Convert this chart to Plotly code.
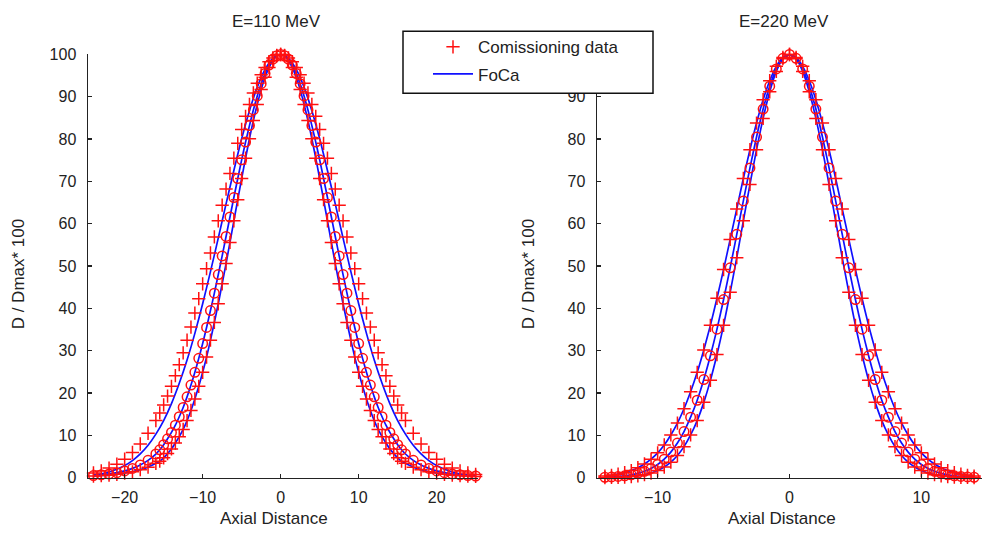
import plotly.graph_objects as go

# ---------------- data ----------------
# E = 110 MeV panel: sample positions (Axial Distance)
L_X = [-24, -23, -22, -21, -20, -19, -18, -17, -16,
       -15.5, -15, -14.5, -14, -13.5, -13, -12.5, -12, -11.5, -11, -10.5, -10,
       -9.5, -9, -8.5, -8, -7.5, -7, -6.5, -6, -5.5, -5, -4.5, -4, -3.5, -3,
       -2.5, -2, -1.5, -1, -0.5, 0, 0.5, 1, 1.5, 2, 2.5, 3, 3.5, 4, 4.5, 5,
       5.5, 6, 6.5, 7, 7.5, 8, 8.5, 9, 9.5, 10, 10.5, 11, 11.5, 12, 12.5, 13,
       13.5, 14, 14.5, 15, 15.5,
       16, 17, 18, 19, 20, 21, 22, 23, 24, 25]

# commissioning data, 110 MeV (three profiles)
L_DATA_A = [1.11, 1.60, 2.28, 3.19, 4.39, 5.96, 7.96, 10.5, 13.5,
            15.3, 17.2, 19.3, 21.6, 24.1, 26.7, 29.5, 32.5, 35.6, 38.9, 42.3, 45.8,
            49.4, 53.1, 56.9, 60.7, 64.4, 68.2, 71.9, 75.5, 79.0, 82.3, 85.4, 88.2, 90.9, 93.2,
            95.2, 96.9, 98.3, 99.2, 99.8, 100, 99.8, 99.2, 98.3, 96.9, 95.2, 93.2, 90.9, 88.2, 85.4, 82.3,
            79.0, 75.5, 71.9, 68.2, 64.4, 60.7, 56.9, 53.1, 49.4, 45.8, 42.3, 38.9, 35.6, 32.5, 29.5, 26.7,
            24.1, 21.6, 19.3, 17.2, 15.3,
            13.5, 10.5, 7.96, 5.96, 4.39, 3.19, 2.28, 1.60, 1.11, 0.76]

L_DATA_B = [0.5, 0.7, 0.9, 1.2, 1.6, 2.2, 3.0, 4.1, 5.6,
            6.6, 7.8, 9.2, 10.7, 12.4, 14.4, 16.6, 19.1, 21.9, 24.9, 28.2, 31.7,
            35.5, 39.5, 43.6, 48.0, 52.4, 57.0, 61.6, 66.2, 70.7, 75.1, 79.3, 83.2, 86.9, 90.2,
            93.1, 95.5, 97.5, 98.9, 99.7, 100, 99.7, 98.9, 97.5, 95.5, 93.1, 90.2, 86.9, 83.2, 79.3, 75.1,
            70.7, 66.2, 61.6, 57.0, 52.4, 48.0, 43.6, 39.5, 35.5, 31.7, 28.2, 24.9, 21.9, 19.1, 16.6, 14.4,
            12.4, 10.7, 9.2, 7.8, 6.6,
            5.6, 4.1, 3.0, 2.2, 1.6, 1.2, 0.9, 0.7, 0.5, 0.4]

L_DATA_C = [0.4, 0.5, 0.6, 0.8, 1.1, 1.4, 1.9, 2.5, 3.4,
            3.9, 4.7, 5.7, 6.8, 8.2, 9.7, 11.4, 13.5, 15.9, 18.6, 21.6, 24.9,
            28.5, 32.5, 36.7, 41.1, 45.8, 50.6, 55.6, 60.7, 65.7, 70.7, 75.5, 80.1, 84.4, 88.2,
            91.7, 94.6, 96.9, 98.6, 99.7, 100, 99.7, 98.6, 96.9, 94.6, 91.7, 88.2, 84.4, 80.1, 75.5, 70.7,
            65.7, 60.7, 55.6, 50.6, 45.8, 41.1, 36.7, 32.5, 28.5, 24.9, 21.6, 18.6, 15.9, 13.5, 11.4, 9.7,
            8.2, 6.8, 5.7, 4.7, 3.9,
            3.4, 2.5, 1.9, 1.4, 1.1, 0.8, 0.6, 0.5, 0.4, 0.3]

# FoCa calculation, 110 MeV, widest profile
L_FOCA_X = [-24, -23, -22, -21, -20, -19, -18, -17, -16, -15, -14, -13, -12, -11, -10,
            -9, -8, -7, -6, -5, -4, -3, -2, -1, 0, 1, 2, 3, 4, 5, 6, 7, 8, 9, 10,
            11, 12, 13, 14, 15, 16, 17, 18, 19, 20, 21, 22, 23, 24, 25]
L_FOCA_A = [0.60, 0.91, 1.35, 1.98, 2.86, 4.04, 5.61, 7.66, 10.3, 13.5, 17.5, 22.3, 27.8, 34.1, 41.1,
            48.7, 56.6, 64.7, 72.6, 80.1, 86.7, 92.3, 96.5, 99.1, 100, 99.1, 96.5, 92.3, 86.7, 80.1, 72.6,
            64.7, 56.6, 48.7, 41.1, 34.1, 27.8, 22.3, 17.5, 13.5, 10.3, 7.66, 5.61, 4.04, 2.86, 1.98,
            1.35, 0.91, 0.60, 0.39]

# E = 220 MeV panel
R_X = [-14, -13.5, -13, -12.5, -12, -11.5, -11, -10.5, -10, -9.5, -9, -8.5, -8, -7.5,
       -7, -6.5, -6, -5.5, -5, -4.5, -4, -3.5, -3, -2.5, -2, -1.5, -1, -0.5, 0,
       0.5, 1, 1.5, 2, 2.5, 3, 3.5, 4, 4.5, 5, 5.5, 6, 6.5, 7, 7.5, 8, 8.5, 9, 9.5,
       10, 10.5, 11, 11.5, 12, 12.5, 13, 13.5, 14]

R_DATA_A = [0.03, 0.06, 0.10, 0.17, 0.28, 0.45, 0.72, 1.11, 1.69, 2.51, 3.67, 5.24, 7.34, 10.1,
            13.5, 17.8, 23.0, 29.1, 36.0, 43.8, 52.0, 60.7, 69.3, 77.5, 84.9, 91.2, 96.0, 99.0, 100,
            99.0, 96.0, 91.2, 84.9, 77.5, 69.3, 60.7, 52.0, 43.8, 36.0, 29.1, 23.0, 17.8, 13.5, 10.1,
            7.34, 5.24, 3.67, 2.51, 1.69, 1.11, 0.72, 0.45, 0.28, 0.17, 0.10, 0.06, 0.03]

R_DATA_B = [0.11, 0.18, 0.29, 0.45, 0.68, 1.03, 1.51, 2.20, 3.13, 4.39, 6.05, 8.19, 10.9, 14.3,
            18.3, 23.2, 28.8, 35.1, 42.1, 49.6, 57.5, 65.4, 73.2, 80.5, 87.1, 92.5, 96.6, 99.1, 100,
            99.1, 96.6, 92.5, 87.1, 80.5, 73.2, 65.4, 57.5, 49.6, 42.1, 35.1, 28.8, 23.2, 18.3, 14.3,
            10.9, 8.19, 6.05, 4.39, 3.13, 2.20, 1.51, 1.03, 0.68, 0.45, 0.29, 0.18, 0.11]

R_DATA_C = [0.39, 0.57, 0.83, 1.19, 1.69, 2.35, 3.24, 4.39, 5.87, 7.74, 10.1, 12.9, 16.3, 20.3,
            24.9, 30.2, 36.0, 42.4, 49.2, 56.3, 63.5, 70.7, 77.5, 83.8, 89.3, 93.8, 97.2, 99.3, 100,
            99.3, 97.2, 93.8, 89.3, 83.8, 77.5, 70.7, 63.5, 56.3, 49.2, 42.4, 36.0, 30.2, 24.9, 20.3,
            16.3, 12.9, 10.1, 7.74, 5.87, 4.39, 3.24, 2.35, 1.69, 1.19, 0.83, 0.57, 0.39]

Y_TICKS = [0, 10, 20, 30, 40, 50, 60, 70, 80, 90, 100]
L_X_TICKS = [-20, -10, 0, 10, 20]
R_X_TICKS = [-10, 0, 10]

PANEL_TITLES = ["E=110 MeV", "E=220 MeV"]
X_TITLE = "Axial Distance"
Y_TITLE = "D / Dmax* 100"
LEGEND_NAMES = ["Comissioning data", "FoCa"]

# ---------------- styling ----------------
RED = "#ff1010"
BLUE = "#1010ff"
FONT = "Liberation Sans"
TXT = "#222222"
W, H = 982, 539

fig = go.Figure()


def line(x, y, xa, ya, show=False):
    fig.add_trace(go.Scatter(x=x, y=y, mode="lines", xaxis=xa, yaxis=ya,
                             line=dict(color=BLUE, width=1.7, shape="spline", smoothing=0.6),
                             name=LEGEND_NAMES[1], showlegend=show, legendrank=2,
                             legendgroup="g2", hoverinfo="skip"))


def marks(x, y, xa, ya, symbol, show=False):
    fig.add_trace(go.Scatter(x=x, y=y, mode="markers", xaxis=xa, yaxis=ya,
                             marker=dict(symbol=symbol, size=9.5, color=RED,
                                         line=dict(color=RED, width=1.5)),
                             name=LEGEND_NAMES[0], showlegend=show, legendrank=1,
                             legendgroup="g1", cliponaxis=False, hoverinfo="skip"))


# 110 MeV
line(L_FOCA_X, L_FOCA_A, "x", "y", show=True)
line(L_X, L_DATA_B, "x", "y")
line(L_X, L_DATA_C, "x", "y")
marks(L_X, L_DATA_A, "x", "y", "cross-thin", show=True)
marks(L_X, L_DATA_B, "x", "y", "circle-open")
marks(L_X, L_DATA_C, "x", "y", "cross-thin")

# 220 MeV
line(R_X, R_DATA_A, "x2", "y2")
line(R_X, R_DATA_B, "x2", "y2")
line(R_X, R_DATA_C, "x2", "y2")
marks(R_X, R_DATA_A, "x2", "y2", "cross-thin")
marks(R_X, R_DATA_B, "x2", "y2", "circle-open")
marks(R_X, R_DATA_C, "x2", "y2", "cross-thin")

ydom = [1 - 485 / H, 1 - 48 / H]
axis_common = dict(showgrid=False, zeroline=False, showline=True, linecolor=TXT,
                   linewidth=1.5, ticks="inside", ticklen=4, tickwidth=1.3,
                   tickcolor=TXT, tickfont=dict(family=FONT, size=16, color=TXT))

fig.update_layout(
    width=W, height=H, autosize=False,
    margin=dict(l=0, r=0, t=0, b=0),
    paper_bgcolor="white", plot_bgcolor="white",
    xaxis=dict(domain=[88 / W, 478 / W], range=[-24.7, 25.3], tickvals=L_X_TICKS,
               anchor="y", ticklabelstandoff=5, **axis_common),
    yaxis=dict(domain=ydom, range=[0, 100], tickvals=Y_TICKS, anchor="x",
               ticklabelstandoff=7, **axis_common),
    xaxis2=dict(domain=[597 / W, 1.0], range=[-14.6, 14.6], tickvals=R_X_TICKS,
                anchor="y2", ticklabelstandoff=5, **axis_common),
    yaxis2=dict(domain=ydom, range=[0, 100], tickvals=Y_TICKS, anchor="x2",
                ticklabelstandoff=7, **axis_common),
    showlegend=True,
    legend=dict(x=428 / W, y=1 - 22 / H, xanchor="left", yanchor="top",
                bgcolor="rgba(0,0,0,0)", borderwidth=0,
                font=dict(family=FONT, size=17, color=TXT),
                tracegroupgap=2, itemwidth=40),
    shapes=[dict(type="rect", xref="paper", yref="paper",
                 x0=403 / W, x1=653 / W, y0=1 - 88 / H, y1=1 - 24 / H,
                 line=dict(color="#111111", width=1.5), fillcolor="white", layer="above")],
)

ann_font = dict(family=FONT, size=17, color=TXT)
annotations = [
    dict(text=PANEL_TITLES[0], x=276 / W, y=1 - 14 / H),
    dict(text=PANEL_TITLES[1], x=784 / W, y=1 - 14 / H),
    dict(text=X_TITLE, x=274 / W, y=1 - 527 / H),
    dict(text=X_TITLE, x=782 / W, y=1 - 527 / H),
    dict(text=Y_TITLE, x=18 / W, y=1 - 275 / H, textangle=-90),
    dict(text=Y_TITLE, x=528 / W, y=1 - 275 / H, textangle=-90),
]
for a in annotations:
    a.update(xref="paper", yref="paper", showarrow=False, font=ann_font,
             xanchor="center", yanchor="middle")
fig.update_layout(annotations=annotations)

fig.write_html(
    "out.html",
    config={"displayModeBar": False, "staticPlot": True},
    post_script=("document.documentElement.style.margin='0px';"
                 "document.body.style.margin='0px';"
                 "document.body.style.overflow='hidden';"
                 "var gd=document.getElementById('{plot_id}');"
                 "gd.style.position='fixed';gd.style.left='0px';gd.style.top='0px';"),
)
